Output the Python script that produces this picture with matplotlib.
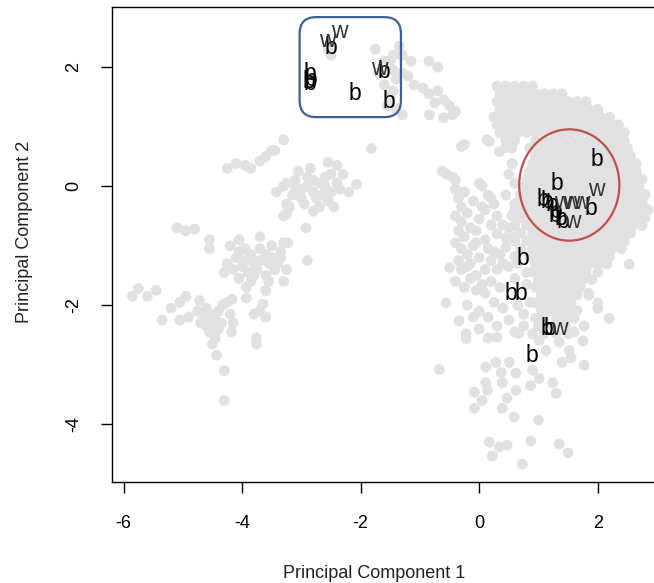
import numpy as np
import matplotlib
matplotlib.use("Agg")
import matplotlib.pyplot as plt
from matplotlib.patches import Ellipse, FancyBboxPatch

plt.rcParams["font.family"] = ["Liberation Sans", "DejaVu Sans"]

# ===================== DATOS =====================
# nube gris (lado izquierdo, abajo)
gray_left = [
    (-5.85, -1.85), (-5.75, -1.72), (-5.6, -1.85), (-5.45, -1.75), (-5.35, -2.25),
    (-5.2, -2.05), (-5.05, -1.95), (-4.95, -1.85), (-5.05, -2.25), (-4.9, -2.2),
    (-4.75, -2.1), (-4.65, -2.2), (-4.55, -2.15), (-4.45, -2.25), (-4.6, -2.35),
    (-4.4, -2.1), (-4.7, -2.3), (-4.72, -1.92), (-4.55, -2.45), (-4.45, -2.55),
    (-4.5, -2.65), (-4.4, -2.4), (-4.43, -2.84), (-4.3, -3.1), (-4.3, -3.6),
    (-4.33, -2.0), (-4.2, -2.15), (-4.15, -2.3), (-4.25, -1.95), (-4.18, -2.45),
    (-4.17, -1.9), (-3.93, -1.7), (-3.93, -1.88), (-3.8, -2.15), (-3.6, -2.2),
    (-3.7, -2.1), (-3.65, -1.98), (-3.76, -2.65), (-3.76, -2.55), (-3.6, -1.76),
    (-4.2, -1.0), (-4.05, -0.9), (-3.95, -1.05), (-4.1, -1.2), (-3.95, -1.25),
    (-3.85, -1.15), (-3.7, -1.25), (-3.6, -1.15), (-3.55, -1.3), (-3.75, -1.4),
    (-3.9, -1.45), (-4.05, -1.55), (-3.85, -1.6), (-3.6, -1.5), (-3.45, -1.4),
    (-3.35, -1.2), (-4.25, -1.3), (-4.3, -1.45), (-4.55, -0.9), (-4.55, -1.05),
    (-5.1, -0.7), (-4.95, -0.75), (-4.8, -0.72), (-3.7, -0.85), (-3.5, -1.0),
    (-3.3, -0.95), (-3.4, -1.3), (-3.55, -1.6), (-3.6, -1.75), (-3.35, -1.1),
    (-3.25, -1.4), (-3.3, -1.6), (-3.23, -0.95), (-2.9, -1.25),
    (-4.0, -1.35), (-3.8, -1.3), (-3.7, -1.05), (-4.15, -1.4), (-3.5, -1.2),
    (-4.6, -2.05), (-4.5, -2.3), (-4.35, -2.3), (-4.05, -1.1), (-3.8, -1.5),
]

# nube gris (centro izquierda)
gray_mid = [
    (-4.25, 0.3), (-4.1, 0.38), (-3.95, 0.35), (-3.85, 0.3), (-3.7, 0.42),
    (-3.6, 0.5), (-3.45, 0.6), (-3.3, 0.78), (-3.5, 0.6), (-3.42, -0.1),
    (-3.3, 0.0), (-3.25, -0.3), (-3.3, -0.5), (-3.25, 0.05), (-3.1, 0.1),
    (-3.0, -0.05), (-2.9, 0.0), (-2.8, 0.1), (-2.7, 0.05), (-2.6, 0.15),
    (-2.5, 0.2), (-2.4, 0.35), (-2.55, 0.4), (-2.3, 0.2), (-2.2, -0.1),
    (-2.35, -0.05), (-2.5, -0.1), (-2.65, -0.15), (-2.8, -0.1), (-3.0, -0.2),
    (-3.15, -0.15), (-3.2, -0.35), (-2.95, -0.3), (-2.7, -0.35), (-2.45, -0.35),
    (-2.55, -0.25), (-3.05, 0.25), (-2.85, 0.3), (-2.92, -0.7), (-2.8, -0.42),
    (-3.25, -0.47), (-2.07, 0.03), (-1.82, 0.63),
    (-2.6, 0.0), (-2.75, -0.2), (-3.1, -0.05), (-2.4, 0.05), (-2.9, 0.15),
]

# nube gris (zona del recuadro azul)
gray_box = [
    (-2.55, 2.3), (-2.5, 2.2), (-1.75, 2.3), (-1.6, 2.1), (-1.7, 1.9),
    (-1.5, 2.1), (-1.45, 1.95), (-1.45, 2.2), (-1.35, 2.35), (-1.6, 1.7),
    (-1.5, 1.5), (-1.45, 1.6), (-1.4, 1.8), (-1.4, 1.3), (-1.55, 1.35),
    (-1.3, 1.2), (-1.3, 2.2), (-1.3, 1.9), (-1.15, 2.1), (-1.2, 1.85),
    (-1.1, 1.7), (-0.85, 2.1), (-0.7, 2.0), (-0.95, 1.65), (-0.85, 1.55),
    (-0.7, 1.6), (-0.6, 1.45), (-0.5, 1.35), (-0.4, 1.25), (-0.75, 1.4),
    (-0.84, 1.2), (-0.6, 1.15), (-0.45, 1.2), (-0.3, 0.67), (-0.25, 0.7),
]

# nube gris densa (derecha), por filas: y -> lista de x
core_y = [1.68, 1.55, 1.42, 1.29, 1.16, 1.03, 0.90, 0.77, 0.64, 0.51, 0.38,
          0.25, 0.12, -0.01, -0.14, -0.27, -0.40, -0.53, -0.66, -0.79, -0.92,
          -1.05, -1.18, -1.31, -1.44, -1.57, -1.70, -1.83, -1.96, -2.09, -2.22,
          -2.35, -2.48]
core_x = [
    [0.30, 0.45, 0.60, 0.75, 0.90],
    [0.35, 0.50, 0.65, 0.80, 0.95, 1.10, 1.25, 1.40],
    [0.30, 0.45, 0.60, 0.75, 0.90, 1.05, 1.20, 1.35, 1.50, 1.65, 1.80],
    [0.35, 0.50, 0.65, 0.80, 0.95, 1.10, 1.25, 1.40, 1.55, 1.70, 1.85, 2.00],
    [0.25, 0.40, 0.55, 0.70, 0.85, 1.00, 1.15, 1.30, 1.45, 1.60, 1.75, 1.90, 2.05, 2.20],
    [0.30, 0.45, 0.60, 0.75, 0.90, 1.05, 1.20, 1.35, 1.50, 1.65, 1.80, 1.95, 2.10, 2.25, 2.35],
    [0.35, 0.50, 0.65, 0.80, 0.95, 1.10, 1.25, 1.40, 1.55, 1.70, 1.85, 2.00, 2.15, 2.30, 2.45],
    [0.45, 0.60, 0.95, 1.10, 1.25, 1.40, 1.55, 1.70, 1.85, 2.00, 2.15, 2.30, 2.45],
    [0.55, 0.85, 1.00, 1.15, 1.30, 1.45, 1.60, 1.75, 1.90, 2.05, 2.20, 2.35, 2.50],
    [0.95, 1.10, 1.25, 1.40, 1.55, 1.70, 1.85, 2.00, 2.15, 2.30, 2.45, 2.55],
    [0.55, 0.90, 1.05, 1.20, 1.35, 1.50, 1.65, 1.80, 1.95, 2.10, 2.25, 2.40, 2.55, 2.65],
    [0.85, 1.00, 1.15, 1.30, 1.45, 1.60, 1.75, 1.90, 2.05, 2.20, 2.35, 2.50, 2.65],
    [0.80, 0.95, 1.10, 1.25, 1.40, 1.55, 1.70, 1.85, 2.00, 2.15, 2.30, 2.45, 2.60, 2.75],
    [0.75, 0.90, 1.05, 1.20, 1.35, 1.50, 1.65, 1.80, 1.95, 2.10, 2.25, 2.40, 2.55, 2.70],
    [0.70, 0.85, 1.00, 1.15, 1.30, 1.45, 1.60, 1.75, 1.90, 2.05, 2.20, 2.35, 2.50, 2.65, 2.80],
    [0.65, 0.80, 0.95, 1.10, 1.25, 1.40, 1.55, 1.70, 1.85, 2.00, 2.15, 2.30, 2.45, 2.60, 2.75],
    [0.60, 0.75, 0.90, 1.05, 1.20, 1.35, 1.50, 1.65, 1.80, 1.95, 2.10, 2.25, 2.40, 2.55, 2.70, 2.85],
    [0.70, 0.85, 1.00, 1.15, 1.30, 1.45, 1.60, 1.75, 1.90, 2.05, 2.20, 2.35, 2.50, 2.65, 2.80],
    [0.60, 0.80, 0.95, 1.10, 1.25, 1.40, 1.55, 1.70, 1.85, 2.00, 2.15, 2.30, 2.45, 2.60, 2.75],
    [0.70, 0.90, 1.05, 1.20, 1.35, 1.50, 1.65, 1.80, 1.95, 2.10, 2.25, 2.40, 2.55],
    [0.60, 0.80, 0.95, 1.10, 1.25, 1.40, 1.55, 1.70, 1.85, 2.00, 2.15, 2.30, 2.45],
    [0.70, 0.90, 1.05, 1.20, 1.35, 1.50, 1.65, 1.80, 1.95, 2.10, 2.25, 2.40],
    [0.60, 0.85, 1.00, 1.15, 1.30, 1.45, 1.60, 1.75, 1.90, 2.05, 2.20],
    [0.95, 1.10, 1.25, 1.40, 1.55, 1.70, 1.85, 2.00, 2.15, 2.53],
    [0.90, 1.05, 1.20, 1.35, 1.50, 1.65, 1.80, 2.00],
    [1.00, 1.15, 1.30, 1.45, 1.60, 1.75, 1.90],
    [0.95, 1.10, 1.25, 1.40, 1.55, 1.70],
    [1.05, 1.20, 1.35, 1.50, 1.65, 1.85],
    [0.95, 1.10, 1.25, 1.40, 1.55, 2.00],
    [1.05, 1.20, 1.35, 1.50, 1.65],
    [0.95, 1.10, 1.30, 1.45, 1.60, 2.19],
    [1.00, 1.25, 1.45, 1.77],
    [0.90, 1.10, 1.30, 1.50],
]

# nube gris (brazo izquierdo y centro de la nube derecha)
gray_right_mid = [
    (0.13, 0.78), (0.17, 0.75), (0.34, 0.58), (0.45, 0.65), (0.56, 0.38),
    (0.0, 0.05), (0.05, 0.0), (0.15, -0.15), (0.25, -0.3), (0.2, -0.2),
    (-0.55, 0.2), (-0.4, 0.1), (-0.62, 0.25), (-0.45, 0.15),
    (-0.4, -0.05), (-0.35, -0.2), (-0.3, -0.35), (-0.4, -0.5), (-0.3, -0.6),
    (-0.35, -0.75), (-0.25, -0.85), (-0.4, -0.95), (-0.3, -1.05), (-0.2, -1.15),
    (-0.35, -1.25), (-0.2, -0.45), (-0.15, -0.7), (-0.1, -1.0), (-0.2, -1.35),
    (-0.5, -1.37), (-0.3, -1.4), (-0.15, -1.3), (-0.05, -1.5), (-0.56, -1.96),
    (-0.15, -1.55), (-0.05, -1.75), (-0.2, -2.0), (0.0, -2.1), (-0.1, -2.2),
    (-0.34, -2.26), (-0.22, -2.48), (-0.05, -0.75), (0.1, -0.9), (0.2, -1.25),
    (0.3, -1.4), (0.45, -0.87), (0.45, -1.03), (0.1, -0.4), (0.3, -0.5),
    (0.4, -0.65), (0.2, -0.65), (0.0, -0.55), (0.55, -0.5), (0.3, -0.8),
    (0.15, -1.05), (0.35, -1.15), (0.0, -1.2), (0.1, -1.4), (0.2, -1.6),
    (0.35, -1.7), (0.1, -1.8), (0.25, -1.95), (0.4, -2.05), (0.15, -2.2),
    (0.3, -2.35), (0.5, -2.25), (0.65, -2.0), (0.75, -2.15), (0.85, -1.95),
    (0.8, -1.65), (0.6, -1.55), (0.5, -1.35), (0.65, -1.3), (0.8, -1.45),
    (0.0, -2.4), (0.15, -2.55), (0.6, -2.45), (0.75, -2.35),
    (1.85, -1.8), (2.0, -2.05), (1.6, -2.45), (1.75, -2.6),
    (-0.25, -0.1), (-0.1, -0.25), (0.05, -0.35), (-0.05, -0.95), (0.25, -1.1),
    (0.4, -1.3), (0.5, 0.2), (0.6, 0.05), (0.45, -0.15), (0.6, -0.3),
    (0.5, -0.7), (0.6, -0.85), (-0.25, -1.7), (-0.4, -1.6), (0.05, -1.65),
]

# cola inferior
gray_tail = [
    (-0.22, -2.56), (0.30, -2.54), (-0.67, -3.08), (0.11, -3.04), (0.28, -2.96),
    (0.51, -2.96), (0.37, -3.13), (0.62, -3.14), (0.9, -3.09), (1.01, -3.23),
    (1.24, -3.3), (1.3, -3.48), (0.87, -3.35), (0.62, -3.43), (0.39, -3.3),
    (0.11, -3.3), (0.14, -3.43), (-0.08, -3.46), (0.05, -3.6), (-0.08, -3.73),
    (0.47, -3.56), (0.39, -3.73), (0.59, -3.88), (1.0, -3.93), (0.17, -4.3),
    (0.34, -4.38), (0.47, -4.35), (0.22, -4.53), (0.87, -4.28), (1.35, -4.33),
    (1.5, -4.48), (0.73, -4.67), (1.77, -3.01), (1.4, -2.96), (1.55, -2.88),
    (1.52, -2.76), (1.35, -2.62), (1.13, -2.76), (0.67, -2.47), (1.01, -2.59),
]

# etiquetas "b" y "w"
letters_b = [
    (-2.50, 2.33), (-2.86, 1.90), (-2.84, 1.80), (-2.85, 1.72), (-2.88, 1.76),
    (-1.60, 1.92), (-2.10, 1.55), (-1.53, 1.42),
    (1.99, 0.45), (1.32, 0.05), (1.08, -0.22), (1.15, -0.25), (1.22, -0.30),
    (1.89, -0.37), (1.30, -0.42), (1.27, -0.50), (1.38, -0.55), (1.42, -0.60),
    (0.73, -1.22), (0.54, -1.81), (0.71, -1.81), (1.15, -2.39), (1.19, -2.39),
    (0.89, -2.84),
]
letters_w = [
    (-2.56, 2.44), (-2.36, 2.60), (-1.69, 1.97),
    (1.97, -0.05), (1.40, -0.28), (1.55, -0.28), (1.72, -0.27), (1.57, -0.60),
    (1.35, -2.39),
]

# recuadro azul (x0, y0, x1, y1) y elipse roja (cx, cy, ancho, alto)
BOX_BLUE = (-3.03, 1.16, -1.32, 2.84)
ELLIPSE_RED = (1.52, 0.02, 1.69, 1.87)

X_TICKS = [-6, -4, -2, 0, 2]
Y_TICKS = [-4, -2, 0, 2]
# =================================================


def puntos_grises():
    xs, ys = [], []
    for grupo in (gray_left, gray_mid, gray_box, gray_right_mid, gray_tail):
        for x, y in grupo:
            xs.append(x)
            ys.append(y)
    for y, fila in zip(core_y, core_x):
        for x in fila:
            xs.append(x)
            ys.append(y)
    return np.array(xs), np.array(ys)


fig = plt.figure(figsize=(6.54, 5.83), dpi=100)
ax = fig.add_axes([0.1708, 0.1732, 0.8338, 0.8148])

gx, gy = puntos_grises()
ax.scatter(gx, gy, s=60, color="#e1e1e1", edgecolors="none", zorder=1)

for x, y in letters_b:
    ax.text(x, y, "b", fontsize=16.5, color="black", ha="center", va="center", zorder=3)
for x, y in letters_w:
    ax.text(x, y, "w", fontsize=16.5, color="#333333", ha="center", va="center", zorder=3)

x0, y0, x1, y1 = BOX_BLUE
ax.add_patch(FancyBboxPatch((x0, y0), x1 - x0, y1 - y0,
                            boxstyle="round,pad=0,rounding_size=0.28",
                            facecolor="none", edgecolor="#3d6196", lw=1.6, zorder=4))
cx, cy, w, h = ELLIPSE_RED
ax.add_patch(Ellipse((cx, cy), w, h, facecolor="none", edgecolor="#c0504d", lw=1.6, zorder=4))

ax.set_xlim(-6.2, 3.0)
ax.set_ylim(-4.97, 3.01)
ax.set_xticks(X_TICKS)
ax.set_xticklabels([str(t) for t in X_TICKS])
ax.set_yticks(Y_TICKS)
ax.set_yticklabels([str(t) for t in Y_TICKS], rotation=90, va="center")
ax.tick_params(axis="both", length=8, width=1, labelsize=13, color="black")
ax.tick_params(axis="x", pad=16)
ax.tick_params(axis="y", pad=13)
for s in ax.spines.values():
    s.set_linewidth(1)

fig.text(374 / 654, 1 - 573 / 583, "Principal Component 1", fontsize=13,
         ha="center", va="center", color="#222222")
fig.text(25 / 654, 1 - 232 / 583, "Principal Component 2", fontsize=13,
         ha="center", va="center", rotation=90, color="#222222")

fig.savefig("out.png", dpi=100)
